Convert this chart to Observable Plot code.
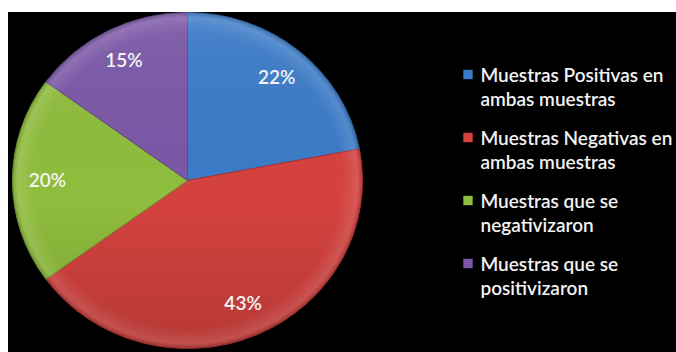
<!DOCTYPE html>
<html><head><meta charset="utf-8">
<script src="https://cdn.jsdelivr.net/npm/d3@7"></script>
<script src="https://cdn.jsdelivr.net/npm/@observablehq/plot@0.6"></script>
<style>body{margin:0;background:#fff;} svg{display:block;}</style>
</head><body><div id="chart"></div>
<script>
const categories = [
  "Muestras Positivas en ambas muestras",
  "Muestras Negativas en ambas muestras",
  "Muestras que se negativizaron",
  "Muestras que se positivizaron"
];
const legendLabels = [
  "Muestras Positivas en\nambas muestras",
  "Muestras Negativas en\nambas muestras",
  "Muestras que se\nnegativizaron",
  "Muestras que se\npositivizaron"
];
const values = [22, 43, 20, 15];
const percentLabels = ["22%", "43%", "20%", "15%"];
const colors = ["#3c7bc8", "#d4423f", "#8fbd3d", "#7b58a7"];

const data = categories.map((c, i) => ({category: c, label: legendLabels[i], value: values[i], pct: percentLabels[i]}));

const FONT = "Lato, 'Open Sans', sans-serif";

function pieMark(index, scales, vals, dimensions, context) {
  const color = scales && scales.color ? scales.color : d3.scaleOrdinal(categories, colors);
  const cx = 187.5, cy = 180.5, rx = 175, ry = 168;
  const k = ry / rx;
  const arcs = d3.pie().sort(null).value(d => d.value)(data);
  const arc = d3.arc().innerRadius(0).outerRadius(rx);
  const g = d3.create("svg:g");
  const defs = g.append("defs");
  const lg = defs.append("linearGradient").attr("id", "shade").attr("x1", 0).attr("y1", 0).attr("x2", 0).attr("y2", 1);
  lg.append("stop").attr("offset", "0%").attr("stop-color", "#fff").attr("stop-opacity", 0.07);
  lg.append("stop").attr("offset", "55%").attr("stop-color", "#000").attr("stop-opacity", 0);
  lg.append("stop").attr("offset", "100%").attr("stop-color", "#000").attr("stop-opacity", 0.14);
  const rg = defs.append("radialGradient").attr("id", "rim").attr("cx", "50%").attr("cy", "50%").attr("r", "50%");
  rg.append("stop").attr("offset", "88%").attr("stop-color", "#fff").attr("stop-opacity", 0);
  rg.append("stop").attr("offset", "97%").attr("stop-color", "#fff").attr("stop-opacity", 0.12);
  rg.append("stop").attr("offset", "100%").attr("stop-color", "#000").attr("stop-opacity", 0.15);

  const pg = g.append("g").attr("transform", `translate(${cx},${cy}) scale(1,${k})`);
  pg.selectAll("path.slice").data(arcs).join("path")
    .attr("class", "slice")
    .attr("d", arc)
    .attr("fill", d => color(d.data.category))
    .attr("stroke", d => d3.color(color(d.data.category)).darker(0.6))
    .attr("stroke-width", 1);
  pg.append("circle").attr("r", rx).attr("fill", "url(#shade)");
  pg.append("circle").attr("r", rx).attr("fill", "url(#rim)");

  const lr = 140;
  g.selectAll("text").data(arcs).join("text")
    .attr("x", d => cx + Math.sin((d.startAngle + d.endAngle) / 2) * lr)
    .attr("y", d => cy - Math.cos((d.startAngle + d.endAngle) / 2) * lr * k)
    .attr("dy", "0.35em")
    .attr("text-anchor", "middle")
    .attr("fill", "#f4f4f4")
    .attr("font-family", FONT)
    .attr("font-weight", 600)
    .attr("font-size", 19)
    .text(d => d.data.pct);
  return g.node();
}

const chart = Plot.plot({
  width: 676,
  height: 352,
  marginLeft: 8,
  marginTop: 12,
  marginRight: 0,
  marginBottom: 0,
  style: {background: "transparent", fontFamily: FONT},
  y: {type: "point", domain: categories, range: [73.5, 263], padding: 0, axis: null},
  color: {domain: categories, range: colors},
  marks: [
    Plot.frame({fill: "black", stroke: "black"}),
    pieMark,
    Plot.dot(data, {y: "category", frameAnchor: "left", dx: 459.5, symbol: "square", r: 5.3, fill: "category"}),
    Plot.text(data, {y: "category", text: "label", frameAnchor: "left", dx: 472, textAnchor: "start",
      lineAnchor: "middle", lineHeight: 1.24, fontSize: 19, fontWeight: 600, fill: "#f2f2f2", dy: 12})
  ]
});
document.getElementById("chart").appendChild(chart);
</script>
</body></html>
